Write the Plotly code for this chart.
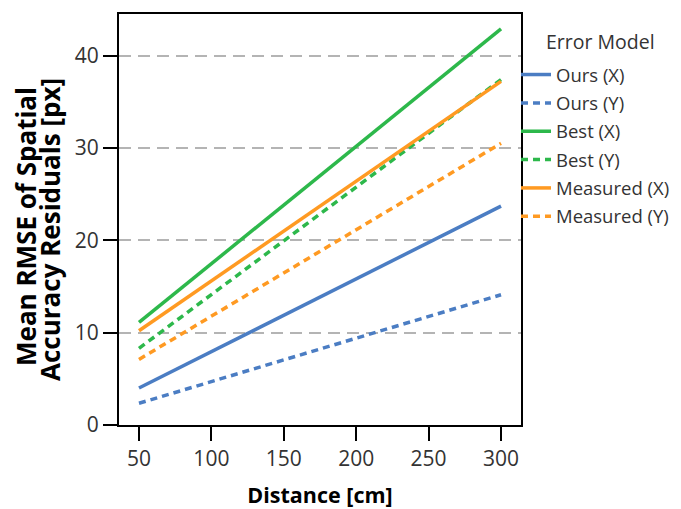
import plotly.graph_objects as go

distance = [50, 300]
series_names = ["Ours (X)", "Ours (Y)", "Best (X)", "Best (Y)", "Measured (X)", "Measured (Y)"]
ours_x = [4.0, 23.7]
ours_y = [2.35, 14.1]
best_x = [11.1, 42.9]
best_y = [8.3, 37.4]
measured_x = [10.2, 37.2]
measured_y = [7.1, 30.5]
x_ticks = [50, 100, 150, 200, 250, 300]
y_ticks = [0, 10, 20, 30, 40]

values = [ours_x, ours_y, best_x, best_y, measured_x, measured_y]
colors = ["#4B7DC3", "#4B7DC3", "#2DB84B", "#2DB84B", "#FF9A22", "#FF9A22"]
dashes = ["solid", "7px,5px", "solid", "7px,5px", "solid", "7px,5px"]

W, H = 681, 509
L, R, T, B = 119, 160, 14, 84
pw, ph = W - L - R, H - T - B

fig = go.Figure()
for i, (name, v) in enumerate(zip(series_names, values)):
    fig.add_trace(go.Scatter(
        x=distance, y=v, mode="lines", name=name, legendgroup=name,
        line=dict(color=colors[i], width=3.5, dash=dashes[i]),
    ))

font = "Open Sans, sans-serif"
fig.update_layout(
    width=W, height=H,
    margin=dict(l=L, r=R, t=T, b=B, autoexpand=False),
    paper_bgcolor="white", plot_bgcolor="white",
    font=dict(family=font, color="#333333"),
    showlegend=True,
    legend=dict(
        x=(516 - L) / pw, xanchor="left",
        y=1 - (56 - T) / ph, yanchor="top",
        font=dict(size=18.5, color="#333333"),
        tracegroupgap=1.3, traceorder="grouped",
        bgcolor="rgba(0,0,0,0)",
    ),
    xaxis=dict(
        range=[36.2, 313.8], tickvals=x_ticks,
        ticks="outside", ticklen=14, tickwidth=2, tickcolor="black",
        showline=True, linewidth=2, linecolor="black", mirror=True,
        showgrid=False, zeroline=False, automargin=False,
        tickfont=dict(size=21, color="#333333"),
        title=dict(text="<b>Distance [cm]</b>", font=dict(size=21.5, color="black"), standoff=18),
    ),
    yaxis=dict(
        range=[0, 44.5], tickvals=y_ticks,
        ticks="outside", ticklen=14, tickwidth=2, tickcolor="black",
        showline=True, linewidth=2, linecolor="black", mirror=True,
        showgrid=True, gridcolor="#B4B4B4", gridwidth=1.5, griddash="12px,7px",
        zeroline=False, automargin=False,
        tickfont=dict(size=21, color="#333333"),
    ),
    annotations=[
        dict(text="Error Model", xref="paper", yref="paper",
             x=(544 - L) / pw, xanchor="left", y=1 - (41 - T) / ph, yanchor="middle",
             showarrow=False, font=dict(size=19.5, color="#333333")),
        dict(text="<b>Mean RMSE of Spatial</b>", xref="paper", yref="paper",
             x=(26 - L) / pw, xanchor="center", y=1 - (227 - T) / ph, yanchor="middle",
             textangle=-90, showarrow=False, font=dict(size=26, color="black")),
        dict(text="<b>Accuracy Residuals [px]</b>", xref="paper", yref="paper",
             x=(50 - L) / pw, xanchor="center", y=1 - (230 - T) / ph, yanchor="middle",
             textangle=-90, showarrow=False, font=dict(size=26, color="black")),
    ],
)

fig.write_html("out.html", config={"displayModeBar": False},
               post_script="document.body.style.margin='0';document.body.style.overflow='hidden';")
